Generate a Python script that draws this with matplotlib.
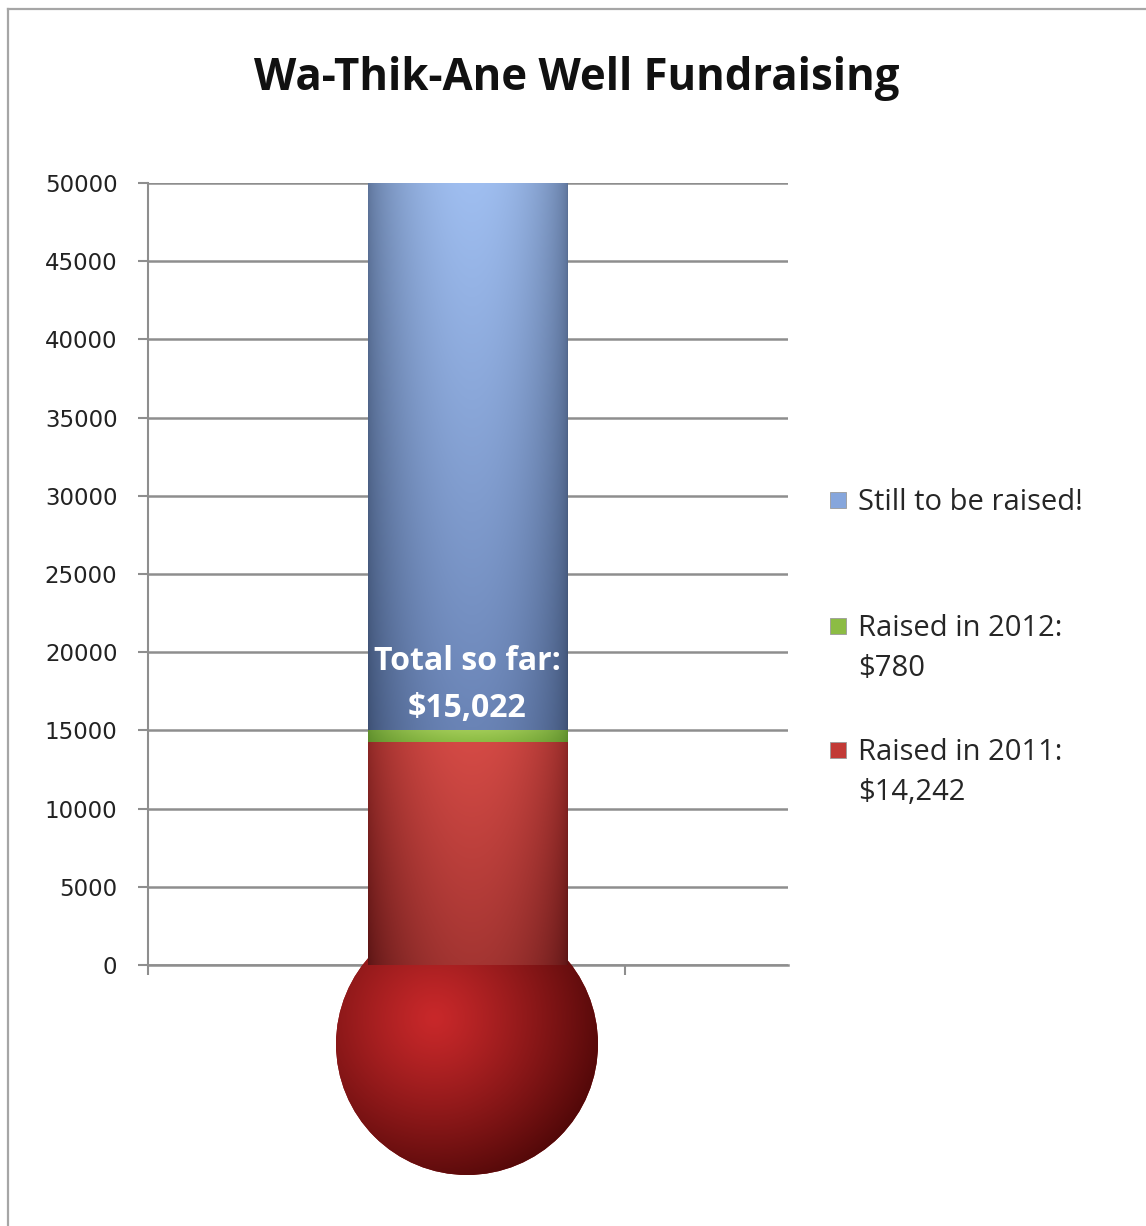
import numpy as np
import matplotlib
matplotlib.use("Agg")
import matplotlib.pyplot as plt
from matplotlib.patches import Ellipse, Rectangle
from matplotlib.colors import to_rgb
from matplotlib.lines import Line2D
from matplotlib.transforms import offset_copy

# ---------------- data ----------------
title = "Wa-Thik-Ane Well Fundraising"
categories = ["Wa-Thik-Ane Well"]
series_names = ["Raised in 2011", "Raised in 2012", "Still to be raised!"]
raised_2011 = [14242]
raised_2012 = [780]
still_to_raise = [34978]
goal = 50000
yticks = list(range(0, 50001, 5000))

total_so_far = raised_2011[0] + raised_2012[0]

# ---------------- figure ----------------
W, H = 1146, 1226
fig = plt.figure(figsize=(W / 100, H / 100), dpi=100)
fig.patch.set_facecolor("white")

def fx(px):
    return px / W

def fy(py):
    return 1 - py / H

# outer frame (left and top edges visible)
fig.add_artist(Line2D([fx(8), fx(8)], [fy(9), 0], color="#a6a6a6", lw=1.6))
fig.add_artist(Line2D([fx(8), 1], [fy(9), fy(9)], color="#a6a6a6", lw=1.6))

ax = fig.add_axes([fx(148), fy(965), 640 / W, 782 / H])
ax.patch.set_alpha(0)

XL = (-1.603, 1.613)
YL = (0, goal)

# ---------------- bars ----------------
def hprofile(n, peak=0.52, power=0.6):
    t = np.linspace(0, 1, n)
    e = np.log(0.5) / np.log(peak)
    tt = t ** e
    return np.sin(np.pi * tt) ** power

def bar_gradient(patch, bottom_center, bottom_edge, top_center, top_edge, z):
    x0, y0 = patch.get_x(), patch.get_y()
    w, h = patch.get_width(), patch.get_height()
    nx, ny = 200, 100
    wprof = hprofile(nx)[None, :, None]
    v = np.linspace(0, 1, ny)[:, None, None]
    c_center = (1 - v) * np.array(to_rgb(bottom_center)) + v * np.array(to_rgb(top_center))
    c_edge = (1 - v) * np.array(to_rgb(bottom_edge)) + v * np.array(to_rgb(top_edge))
    img = c_edge + (c_center - c_edge) * wprof
    im = ax.imshow(np.clip(img, 0, 1), extent=(x0, x0 + w, y0, y0 + h), origin="lower",
                   aspect="auto", interpolation="bilinear", zorder=z)
    im.set_clip_path(patch)

bw = 1.0
b1 = ax.bar(0, raised_2011, width=bw, color="#b03a36", linewidth=0, zorder=3)
b2 = ax.bar(0, raised_2012, width=bw, bottom=raised_2011, color="#8cb848", linewidth=0, zorder=3)
bottom3 = [a + b for a, b in zip(raised_2011, raised_2012)]
b3 = ax.bar(0, still_to_raise, width=bw, bottom=bottom3, color="#7f9fd6", linewidth=0, zorder=3)

bar_gradient(b1.patches[0], "#a43532", "#5a1414", "#d44a45", "#8a2624", 3.2)
bar_gradient(b2.patches[0], "#8cbc44", "#5a8a2a", "#a2cc58", "#62922e", 3.2)
bar_gradient(b3.patches[0], "#6a84b6", "#3c4f72", "#9fbef0", "#5d7399", 3.2)

# ---------------- bulb ----------------
ax.set_xlim(*XL)
ax.set_ylim(*YL)
pos = ax.get_position()
ax_wpx = pos.width * W
ax_hpx = pos.height * H
ppx = ax_wpx / (XL[1] - XL[0])
ppy = ax_hpx / (YL[1] - YL[0])
r_px = 131
bulb_cx = 0.0
bulb_cy = -79 / ppy
ew, eh = 2 * r_px / ppx, 2 * r_px / ppy
bulb = Ellipse((bulb_cx, bulb_cy), ew, eh, facecolor="#8a1616", edgecolor="none", zorder=2.8)
ax.add_patch(bulb)
bulb.set_clip_box(fig.bbox)
n = 300
u = np.linspace(-1, 1, n)
U, V = np.meshgrid(u, u)
d = np.sqrt((U + 0.25) ** 2 + (V - 0.2) ** 2) / 1.4
d = np.clip(d, 0, 1) ** 1.2
hi = np.array(to_rgb("#c8282a"))
lo = np.array(to_rgb("#4a0606"))
bimg = hi[None, None, :] * (1 - d[..., None]) + lo[None, None, :] * d[..., None]
bim = ax.imshow(bimg, extent=(bulb_cx - ew / 2, bulb_cx + ew / 2, bulb_cy - eh / 2, bulb_cy + eh / 2),
                origin="lower", aspect="auto", interpolation="bilinear", zorder=2.9)
bim.set_clip_box(fig.bbox)
bim.set_clip_path(bulb)

ax.set_xlim(*XL)
ax.set_ylim(*YL)

# ---------------- axes styling ----------------
grid_c = "#8e8e8e"
ax.set_yticks(yticks)
ax.set_yticklabels([str(t) for t in yticks], fontsize=16.5, family="DejaVu Sans", color="#222222")
ax.set_xticks([XL[0], 0.794])
ax.set_xticklabels(["", ""])
ax.tick_params(axis="y", length=7, width=1.5, color=grid_c, pad=15)
ax.tick_params(axis="x", length=7, width=1.5, color=grid_c, direction="out")
ax.yaxis.grid(True, color=grid_c, lw=1.8, zorder=0.5)
ax.set_axisbelow(True)
for s in ["top", "right"]:
    ax.spines[s].set_visible(False)
ax.spines["left"].set_color(grid_c)
ax.spines["left"].set_linewidth(1.5)
ax.spines["bottom"].set_color(grid_c)
ax.spines["bottom"].set_linewidth(1.8)
ax.spines["bottom"].set_zorder(1)

# ---------------- label inside bar ----------------
bar_label_lines = ["Total so far:", f"${total_so_far:,}"]
for line, off_px in zip(bar_label_lines, [60, 13]):
    tr = offset_copy(ax.transData, fig=fig, x=0, y=off_px, units="dots")
    ax.text(0, total_so_far, line, ha="center", va="baseline", color="white",
            fontsize=23, fontweight="bold", family="Open Sans", zorder=5, transform=tr)

# ---------------- title ----------------
fig.text(fx(577), fy(90), title, ha="center", va="baseline", fontsize=31.5,
         fontweight="bold", family="Open Sans", color="#111111")

# ---------------- legend ----------------
leg_items = [
    (series_names[2], "#86a6dc", [510]),
    (f"{series_names[1]}:\n${raised_2012[0]:,}", "#8cbc44", [636, 676]),
    (f"{series_names[0]}:\n${raised_2011[0]:,}", "#c23a36", [760, 800]),
]
for label, col, baselines in leg_items:
    yc = baselines[0] - 10
    fig.add_artist(Rectangle((fx(830), fy(yc + 8)), 16 / W, 16 / H, transform=fig.transFigure,
                             facecolor=col, edgecolor="#9a9a9a", lw=0.6))
    for line, bl in zip(label.split("\n"), baselines):
        fig.text(fx(858), fy(bl), line, ha="left", va="baseline", fontsize=21,
                 family="Open Sans", color="#262626")

fig.savefig("out.png", dpi=100, facecolor="white")
